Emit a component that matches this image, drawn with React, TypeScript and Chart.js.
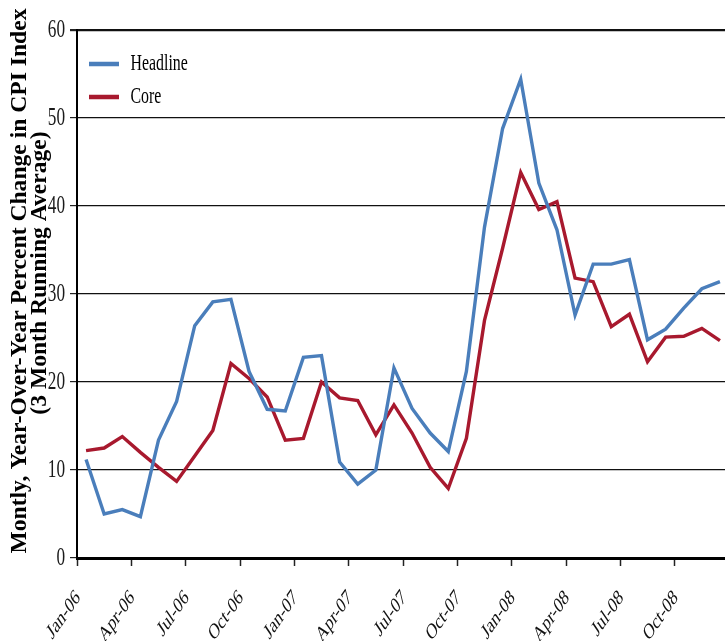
import React, { useEffect, useRef } from "react";
import { Chart, registerables } from "chart.js";

Chart.register(...registerables);

const months = [
  "Jan-06", "Feb-06", "Mar-06", "Apr-06", "May-06", "Jun-06",
  "Jul-06", "Aug-06", "Sep-06", "Oct-06", "Nov-06", "Dec-06",
  "Jan-07", "Feb-07", "Mar-07", "Apr-07", "May-07", "Jun-07",
  "Jul-07", "Aug-07", "Sep-07", "Oct-07", "Nov-07", "Dec-07",
  "Jan-08", "Feb-08", "Mar-08", "Apr-08", "May-08", "Jun-08",
  "Jul-08", "Aug-08", "Sep-08", "Oct-08", "Nov-08", "Dec-08",
];

const headline = [
  11.2, 5.0, 5.5, 4.7, 13.4, 17.8, 26.4, 29.1, 29.4, 21.2, 16.9, 16.7,
  22.8, 23.0, 10.9, 8.4, 10.0, 21.6, 17.0, 14.2, 12.1, 21.2, 37.6, 48.8,
  54.4, 42.6, 37.3, 27.6, 33.4, 33.4, 33.9, 24.8, 26.0, 28.4, 30.6, 31.4,
];

const core = [
  12.2, 12.5, 13.8, 12.0, 10.3, 8.7, 11.6, 14.5, 22.1, 20.4, 18.3, 13.4,
  13.6, 20.0, 18.2, 17.9, 14.0, 17.4, 14.2, 10.3, 7.9, 13.6, 27.0, 35.2,
  43.8, 39.6, 40.5, 31.8, 31.4, 26.3, 27.7, 22.3, 25.1, 25.2, 26.1, 24.7,
];

const seriesNames = ["Headline", "Core"];
const yTitleLines = [
  "Montly, Year-Over-Year Percent Change in CPI Index",
  "(3 Month Running Average)",
];
const yMin = 0;
const yMax = 60;
const yStep = 10;
const labelEvery = 3;

const BLUE = "#4a7ebb";
const RED = "#a8192e";
const SERIF = "'Liberation Serif', 'Times New Roman', serif";
const SQUEEZE = 0.69;
const unsqueezed = new Set(yTitleLines);

function squeezeText(ctx: CanvasRenderingContext2D) {
  const orig = ctx.fillText.bind(ctx);
  (ctx as any).fillText = (text: string, x: number, y: number, maxWidth?: number) => {
    const call = () => (maxWidth === undefined ? orig(text, x, y) : orig(text, x, y, maxWidth));
    if (unsqueezed.has(String(text))) {
      call();
      return;
    }
    const m = ctx.getTransform();
    const px = m.a * x + m.c * y + m.e;
    ctx.save();
    const s = new DOMMatrix([SQUEEZE, 0, 0, 1, px * (1 - SQUEEZE), 0]);
    ctx.setTransform(s.multiply(m));
    call();
    ctx.restore();
  };
}

const legendPlacer = {
  id: "legendPlacer",
  afterLayout(chart: any) {
    const l = chart.legend;
    if (!l) return;
    l.left = 79;
    l.top = 42.5;
    l.width = 220;
    l.height = 100;
    l.right = l.left + l.width;
    l.bottom = l.top + l.height;
  },
};

const yTitlePlugin = {
  id: "yTitle",
  afterDraw(chart: any) {
    const ctx = chart.ctx as CanvasRenderingContext2D;
    const pos = [
      [20, 281],
      [40, 273],
    ];
    ctx.save();
    ctx.font = `bold 23.6px ${SERIF}`;
    ctx.fillStyle = "#000";
    ctx.textAlign = "center";
    ctx.textBaseline = "middle";
    yTitleLines.forEach((t, i) => {
      ctx.save();
      ctx.translate(pos[i][0], pos[i][1]);
      ctx.rotate(-Math.PI / 2);
      ctx.fillText(t, 0, 0);
      ctx.restore();
    });
    ctx.restore();
  },
};

export default function App() {
  const ref = useRef<HTMLCanvasElement | null>(null);

  useEffect(() => {
    const canvas = ref.current;
    if (!canvas) return;
    const ctx = canvas.getContext("2d");
    if (!ctx) return;
    squeezeText(ctx);

    const chart = new Chart(ctx, {
      type: "line",
      data: {
        labels: months,
        datasets: [
          {
            label: seriesNames[0],
            data: headline,
            borderColor: BLUE,
            backgroundColor: BLUE,
            borderWidth: 3.4,
            pointRadius: 0,
            tension: 0,
          },
          {
            label: seriesNames[1],
            data: core,
            borderColor: RED,
            backgroundColor: RED,
            borderWidth: 3.4,
            pointRadius: 0,
            tension: 0,
          },
        ],
      },
      options: {
        responsive: true,
        maintainAspectRatio: false,
        animation: false,
        events: [],
        layout: { padding: { top: 30, left: 0, right: 0, bottom: 0 } },
        plugins: {
          legend: {
            position: "chartArea",
            align: "start",
            labels: {
              usePointStyle: true,
              pointStyle: "line",
              pointStyleWidth: 30,
              padding: 10,
              color: "#000",
              font: { family: SERIF, size: 23 },
              generateLabels: (c: any) =>
                (Chart as any).defaults.plugins.legend.labels
                  .generateLabels(c)
                  .map((l: any) => ({ ...l, lineWidth: 4.5 })),
            },
          },
          tooltip: { enabled: false },
        },
        scales: {
          x: {
            offset: true,
            grid: {
              offset: true,
              drawOnChartArea: false,
              drawTicks: true,
              tickLength: 8,
              tickColor: (c: any) => (c.index % labelEvery === 0 ? "#222" : "rgba(0,0,0,0)"),
              tickWidth: 1.5,
            },
            border: { display: true, color: "#000", width: 3 },
            ticks: {
              autoSkip: false,
              maxRotation: 45,
              minRotation: 45,
              padding: 19,
              labelOffset: -8,
              color: "#111",
              font: { family: SERIF, size: 22, lineHeight: 1.2 },
              callback: (_v: any, i: number) => (i % labelEvery === 0 ? months[i] : ""),
            },
            afterFit: (s: any) => {
              s.height = 83;
              s.paddingLeft = 0;
              s.paddingRight = 0;
            },
          },
          y: {
            min: yMin,
            max: yMax,
            ticks: {
              stepSize: yStep,
              padding: 5,
              color: "#1a1a1a",
              font: { family: SERIF, size: 25 },
            },
            grid: {
              color: "#111",
              lineWidth: (c: any) => (c.tick && c.tick.value === yMax ? 2.2 : 1.2),
              tickLength: 7,
              tickColor: "#222",
            },
            border: { display: true, color: "#000", width: 2 },
            afterFit: (s: any) => {
              s.width = 77;
              s.paddingTop = 0;
              s.paddingBottom = 0;
            },
          },
        },
      },
      plugins: [legendPlacer, yTitlePlugin],
    } as any);

    return () => chart.destroy();
  }, []);

  return (
    <div
      style={{
        position: "fixed",
        left: 0,
        top: 0,
        width: 725,
        height: 641,
        overflow: "hidden",
        background: "#fff",
      }}
    >
      <div style={{ position: "relative", width: 729, height: 641 }}>
        <canvas ref={ref} />
      </div>
    </div>
  );
}
